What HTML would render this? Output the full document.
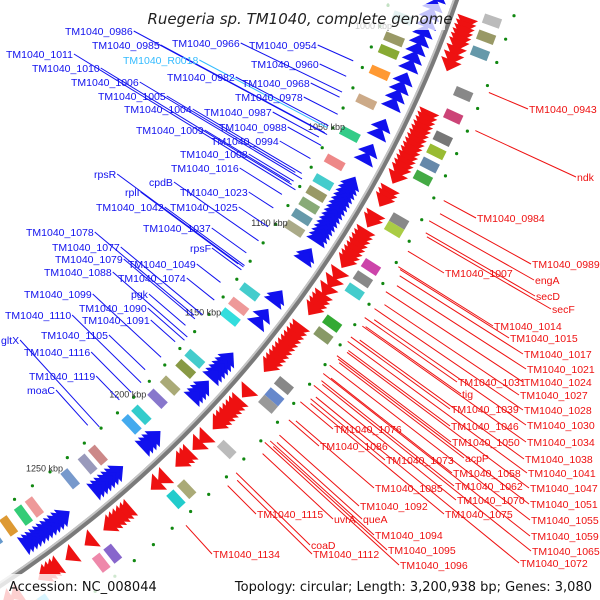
<!DOCTYPE html>
<html><head><meta charset="utf-8">
<style>
html,body{margin:0;padding:0;background:#fff;overflow:hidden;width:600px;height:600px;}
svg{display:block;}
text{font-family:"Liberation Sans","DejaVu Sans",sans-serif;}
</style></head>
<body>
<svg id="map" width="600" height="600" viewBox="0 0 600 600" xmlns="http://www.w3.org/2000/svg">
<g id="features"></g>
<g id="ring"></g>
<g id="leaders"></g>
<g id="labels"></g>
<rect x="155" y="4" width="290" height="26" fill="#fff" opacity="0.75"/>
<text x="300" y="24" text-anchor="middle" font-size="15" font-style="italic" fill="#222" style="font-family:'DejaVu Sans',sans-serif">Ruegeria sp. TM1040, complete genome</text>
<rect x="0" y="574" width="600" height="26" fill="#fff" opacity="0.8"/>
<text x="9" y="591" font-size="13" fill="#111" style="font-family:'DejaVu Sans',sans-serif">Accession: NC_008044</text>
<text x="592" y="591" font-size="13" fill="#111" text-anchor="end" style="font-family:'DejaVu Sans',sans-serif">Topology: circular; Length: 3,200,938 bp; Genes: 3,080</text>
</svg>
<script>
const redGenes = [982,984,986,988,990,992,995,998,1001,1024,1026,1028,1030,1032,1034,1036,1038,1040,1042,1044,1046,1048,1050,1053,1060,1062,1064,1072,1074,1080,1082,1084,1086,1088,1090,1092,1094,1100,1104,1108,1112,1114,1116,1118,1128,1130,1132,1134,1136,1138,1140,1142,1144,1146,1148,1162,1168,1170,1172,1174,1176,1178,1180,1188,1192,1198,1200,1202,1212,1216,1232,1234,1236,1238,1240,1242,1252,1262,1270,1272,1274,1276,1290,1294,1300];
const blueGenes = [972,976,980,984,988,992,996,1000,1004,1008,1012,1018,1022,1026,1030,1040,1044,1052,1056,1068,1070,1072,1074,1076,1078,1080,1082,1084,1086,1088,1090,1092,1094,1096,1104,1106,1126,1128,1136,1140,1160,1162,1164,1166,1168,1170,1176,1178,1180,1182,1206,1208,1210,1212,1228,1230,1232,1234,1236,1238,1240,1258,1260,1262,1264,1266,1268,1270,1272,1274,1276,1278,1300,1302,1304];
const outerBoxKbp = [978,985,992,1010,1020,1030,1036,1042,1048,1068,1072,1090,1096,1102,1118,1124,1150,1156,1160,1185,1208,1214,1248,1254,1282,1286];
const outerBoxCol = ["#bbbbbb","#999966","#6699aa","#888888","#cc4477","#777777","#99bb33","#6688aa","#44aa44","#888888","#aacc44","#cc44aa","#888888","#44cccc","#33aa33","#889966","#888888","#6688cc","#999999","#bbbbbb","#aaaa77","#22cccc","#8866cc","#ee88aa","#44ccff","#cccc99"];
const innerBoxKbp = [990,1000,1006,1016,1030,1046,1060,1070,1076,1082,1088,1094,1128,1136,1142,1166,1172,1182,1190,1200,1206,1226,1232,1242,1262,1268,1276,1284];
const innerBoxCol = ["#99cccc","#999966","#88aa33","#ff9933","#ccaa88","#33cc88","#ee8888","#44cccc","#999966","#88aa77","#6699aa","#aaaa88","#44cccc","#ee9999","#33dddd","#44cccc","#889944","#aaaa77","#8877cc","#33cccc","#44aaee","#cc8888","#9999bb","#7799cc","#ee9999","#33cc77","#dd9933","#6699cc"];
const dotKbp = [975,985,995,1005,1015,1025,1035,1045,1055,1065,1075,1085,1095,1105,1115,1125,1135,1145,1155,1165,1175,1185,1195,1205,1215,1225,1235,1245,1255,1265,1275,1285,1295,1305];
const tickKbp = [1000,1050,1100,1150,1200,1250];
const tickLabels = ["1000 kbp","1050 kbp","1100 kbp","1150 kbp","1200 kbp","1250 kbp"];
const blueLabels = ["TM1040_0986","TM1040_0985","TM1040_0966","TM1040_0954","TM1040_1011","TM1040_R0018","TM1040_1010","TM1040_0960","TM1040_1006","TM1040_0982","TM1040_0968","TM1040_1005","TM1040_0978","TM1040_1004","TM1040_0987","TM1040_1009","TM1040_0988","TM1040_0994","TM1040_1008","TM1040_1016","rpsR","cpdB","rplI","TM1040_1023","TM1040_1042","TM1040_1025","TM1040_1037","TM1040_1078","rpsF","TM1040_1077","TM1040_1079","TM1040_1049","TM1040_1088","TM1040_1074","TM1040_1099","pgk","TM1040_1090","TM1040_1110","TM1040_1091","TM1040_1105","gltX","TM1040_1116","TM1040_1119","moaC"];
const blueLabelX = [65,92,172,249,6,123,32,251,71,167,242,98,235,124,204,136,219,211,180,171,94,149,125,180,96,170,143,26,190,52,55,128,44,118,24,131,79,5,82,41,1,24,29,27];
const blueLabelY = [31,45,43,45,54,60,68,64,82,77,83,96,97,109,112,130,127,141,154,168,174,182,192,192,207,207,228,232,248,247,259,264,272,278,294,294,308,315,320,335,340,352,376,390];
const redLabels = ["TM1040_0943","ndk","TM1040_0984","TM1040_0989","TM1040_1007","engA","secD","secF","TM1040_1014","TM1040_1015","TM1040_1017","TM1040_1021","TM1040_1031","TM1040_1024","tig","TM1040_1027","TM1040_1039","TM1040_1028","TM1040_1046","TM1040_1030","TM1040_1050","TM1040_1034","acpP","TM1040_1038","TM1040_1076","TM1040_1086","TM1040_1073","TM1040_1058","TM1040_1041","TM1040_1062","TM1040_1047","TM1040_1085","TM1040_1070","TM1040_1051","TM1040_1092","TM1040_1075","TM1040_1055","TM1040_1115","uvrA","queA","TM1040_1059","TM1040_1094","TM1040_1065","TM1040_1095","coaD","TM1040_1134","TM1040_1112","TM1040_1072","TM1040_1096"];
const redLabelX = [529,577,477,532,445,535,536,552,494,510,524,527,458,524,462,520,451,524,451,527,452,527,465,525,334,320,386,453,528,455,530,375,457,530,360,445,531,257,334,363,531,375,532,388,311,213,313,520,400];
const redLabelY = [109,177,218,264,273,280,296,309,326,338,354,369,382,382,394,395,409,410,426,425,442,442,458,459,429,446,460,473,473,486,488,488,500,504,506,514,520,514,519,519,536,535,551,550,545,554,554,563,565];

const CX=-639, CY=-383, R=1160, DEG=0.117, K0=1000, A0=22.0;
const NS="http://www.w3.org/2000/svg";
function ang(k){return (A0+(k-K0)*DEG)*Math.PI/180;}
function pt(k,r){const a=ang(k);return [CX+r*Math.cos(a),CY+r*Math.sin(a)];}
function mk(tag,attrs,parent){const e=document.createElementNS(NS,tag);for(const k in attrs)e.setAttribute(k,attrs[k]);parent.appendChild(e);return e;}
const F=document.getElementById('features');

const ring=document.getElementById('ring');
function arcPath(r){const a=[CX+r*Math.cos(0.25),CY+r*Math.sin(0.25)],b=[CX+r*Math.cos(1.1),CY+r*Math.sin(1.1)];return `M${a[0]},${a[1]} A${r},${r} 0 0 1 ${b[0]},${b[1]}`;}
const r1=mk('path',{d:arcPath(R),fill:'none',stroke:'#7a7a7a','stroke-width':6},ring);


const r2=mk('path',{d:arcPath(R-2),fill:'none',stroke:'#c4c4c4','stroke-width':2},ring);



function arrow(k,r0,r1,dir,col){
  const a=pt(k,r0),b=pt(k,r1),tip=pt(k+dir*5,(r0+r1)/2);
  return mk('polygon',{points:`${a[0]},${a[1]} ${b[0]},${b[1]} ${tip[0]},${tip[1]}`,fill:col},F);
}
redGenes.forEach(k=>{
  const p=arrow(k,R+6,R+28,1,'#ee1111');
  
  
});
blueGenes.forEach(k=>{
  const p=arrow(k,R-8,R-30,-1,'#1111ee');
  
  
});
function box(k,r0,r1,col){
  const a=pt(k,r0),b=pt(k,r1),c=pt(k+4,r1),d=pt(k+4,r0);
  return mk('polygon',{points:`${a[0]},${a[1]} ${b[0]},${b[1]} ${c[0]},${c[1]} ${d[0]},${d[1]}`,fill:col},F);
}
outerBoxKbp.forEach((k,i)=>{
  const p=box(k,R+32,R+50,outerBoxCol[i]);
  
  
});
innerBoxKbp.forEach((k,i)=>{
  const p=box(k,R-34,R-54,innerBoxCol[i]);
  
  
});
dotKbp.forEach(k=>{
  const o=pt(k,R+60),n=pt(k+4,R-62);
  const d1=mk('circle',{cx:o[0],cy:o[1],r:1.6,fill:'#118811'},F);
  
  
  const d2=mk('circle',{cx:n[0],cy:n[1],r:1.6,fill:'#118811'},F);
  
  
});
tickKbp.forEach((k,i)=>{
  const p=pt(k,R-68);
  const t=mk('text',{x:p[0],y:p[1]+3,'font-size':9,fill:'#333','text-anchor':'middle'},F);
  t.textContent=tickLabels[i];
  
  
});

const L=document.getElementById('labels'),LL=document.getElementById('leaders');
function radialEnd(x,y,r){const a=Math.atan2(y-CY,x-CX);return [CX+r*Math.cos(a),CY+r*Math.sin(a)];}
blueLabels.forEach((s,i)=>{
  const col=s.indexOf('R0018')>=0?'#33bbff':'#1111ee';
  const t=mk('text',{x:blueLabelX[i],y:blueLabelY[i]+4,'font-size':10.5,fill:col},L);
  t.textContent=s;
  
  
  const x0=blueLabelX[i]+t.getComputedTextLength()+1,y0=blueLabelY[i];
  const e=radialEnd(x0,y0,R-64-(i%4)*3);
  const l=mk('line',{x1:x0,y1:y0,x2:e[0],y2:e[1],stroke:col,'stroke-width':1},LL);
  
  
});
redLabels.forEach((s,i)=>{
  const t=mk('text',{x:redLabelX[i],y:redLabelY[i]+4,'font-size':10.5,fill:'#ee1111'},L);
  t.textContent=s;
  
  
  const x0=redLabelX[i]-1,y0=redLabelY[i];
  const e=radialEnd(x0,y0,R+64+(i%4)*3);
  const l=mk('line',{x1:x0,y1:y0,x2:e[0],y2:e[1],stroke:'#ee1111','stroke-width':1},LL);
  
  
});
</script>
</body></html>
